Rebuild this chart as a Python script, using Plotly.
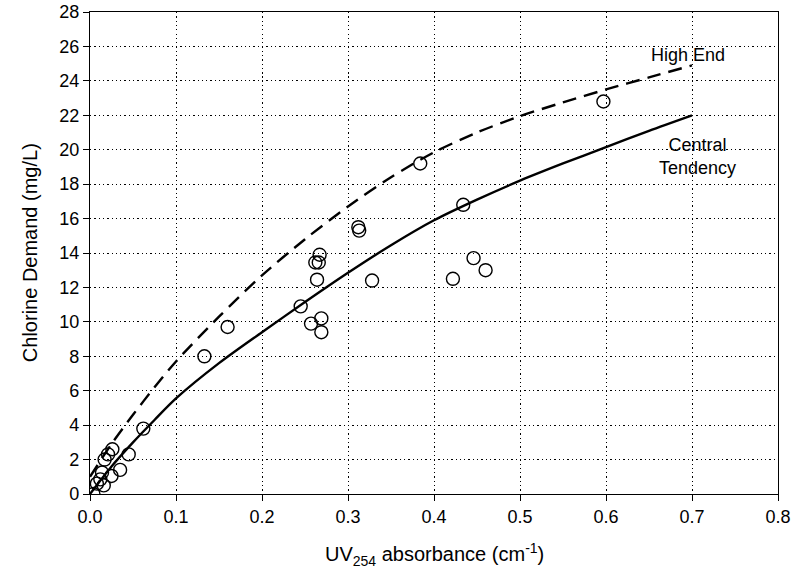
import plotly.graph_objects as go

# Observed data (UV254 absorbance vs chlorine demand)
obs_x = [0.004, 0.008, 0.016, 0.012, 0.014, 0.025, 0.035, 0.017, 0.021, 0.026, 0.045, 0.062,
         0.133, 0.160, 0.245, 0.257, 0.269, 0.269, 0.264, 0.262, 0.266, 0.267,
         0.312, 0.313, 0.328, 0.384, 0.422, 0.434, 0.446, 0.460, 0.597]
obs_y = [0.0, 0.6, 0.5, 0.85, 1.25, 1.05, 1.4, 2.0, 2.3, 2.6, 2.3, 3.8,
         8.0, 9.7, 10.9, 9.9, 10.2, 9.4, 12.45, 13.45, 13.45, 13.9,
         15.5, 15.3, 12.4, 19.2, 12.5, 16.8, 13.7, 13.0, 22.8]

# Central tendency curve
ct_x = [0.0, 0.025, 0.05, 0.075, 0.1, 0.15, 0.2, 0.25, 0.3, 0.35, 0.4, 0.45, 0.5, 0.55, 0.6, 0.65, 0.7]
ct_y = [0.0, 1.6, 3.0, 4.3, 5.55, 7.6, 9.4, 11.15, 12.85, 14.45, 15.9, 17.1, 18.2, 19.2, 20.15, 21.1, 22.0]

# High-end curve
he_x = [0.0, 0.025, 0.05, 0.075, 0.1, 0.15, 0.2, 0.25, 0.3, 0.35, 0.4, 0.45, 0.5, 0.55, 0.6, 0.65, 0.7]
he_y = [1.0, 2.9, 4.6, 6.2, 7.7, 10.3, 12.7, 14.8, 16.7, 18.4, 19.85, 21.0, 21.95, 22.75, 23.5, 24.2, 24.9]

x_ticks = [0.0, 0.1, 0.2, 0.3, 0.4, 0.5, 0.6, 0.7, 0.8]
x_tick_labels = ["0.0", "0.1", "0.2", "0.3", "0.4", "0.5", "0.6", "0.7", "0.8"]
y_ticks = list(range(0, 29, 2))

FONT = "Liberation Sans, Arial, sans-serif"
TICK_SIZE = 18
TITLE_SIZE = 20

fig = go.Figure()
fig.add_trace(go.Scatter(x=he_x, y=he_y, mode="lines", line_shape="spline",
                         line=dict(color="black", width=2.4, dash="14px,8px", smoothing=0.8),
                         showlegend=False, hoverinfo="skip"))
fig.add_trace(go.Scatter(x=ct_x, y=ct_y, mode="lines", line_shape="spline",
                         line=dict(color="black", width=2.4, smoothing=0.8),
                         showlegend=False, hoverinfo="skip"))
fig.add_trace(go.Scatter(x=obs_x, y=obs_y, mode="markers",
                         marker=dict(symbol="circle-open", size=13,
                                     color="black", line=dict(color="black", width=1.4)),
                         showlegend=False))

fig.add_annotation(x=0.695, y=25.5, text="High End", showarrow=False,
                   font=dict(family=FONT, size=TICK_SIZE, color="black"))
fig.add_annotation(x=0.706, y=19.6, text="Central<br>Tendency", showarrow=False,
                   font=dict(family=FONT, size=TICK_SIZE, color="black"))

# axis titles
fig.add_annotation(xref="paper", yref="paper", x=0.5, y=-0.125, yanchor="middle",
                   text="UV<sub>254</sub> absorbance (cm<sup>-1</sup>)", showarrow=False,
                   font=dict(family=FONT, size=TITLE_SIZE, color="black"))
fig.add_annotation(xref="paper", yref="paper", x=-0.087, y=0.5, xanchor="center",
                   text="Chlorine Demand (mg/L)", showarrow=False, textangle=-90,
                   font=dict(family=FONT, size=TITLE_SIZE, color="black"))

axis_common = dict(showline=True, linecolor="black", linewidth=1.3, mirror=True,
                   ticks="outside", ticklen=6, tickcolor="black", tickwidth=1.3,
                   showgrid=True, gridcolor="black", gridwidth=1, griddash="1.3px,3px",
                   zeroline=False, automargin=False, ticklabeloverflow="allow",
                   tickfont=dict(family=FONT, size=TICK_SIZE, color="black"))

fig.update_xaxes(range=[0, 0.8], tickvals=x_ticks, ticktext=x_tick_labels, **axis_common)
fig.update_yaxes(range=[0, 28], tickvals=y_ticks, **axis_common)

fig.update_layout(width=793, height=583, margin=dict(l=90, r=15, t=12, b=89, autoexpand=False),
                  plot_bgcolor="white", paper_bgcolor="white",
                  font=dict(family=FONT, color="black"))

# remove the default page margin so the figure sits at the window's top-left corner
fig.write_html("out.html", config={"displayModeBar": False},
               post_script="document.body.style.margin='0';document.body.style.overflow='hidden';")
